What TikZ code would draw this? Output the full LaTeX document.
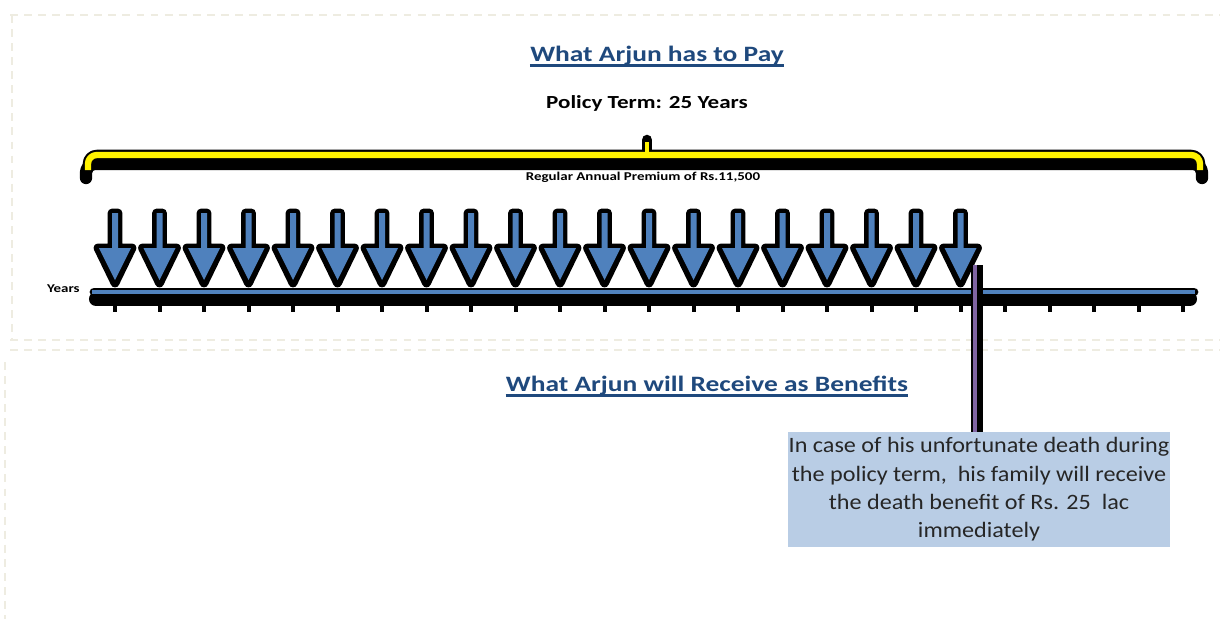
\documentclass[tikz,border=0pt]{standalone}
\usepackage{xcolor}
\usepackage{fontspec}
\setmainfont{Carlito}
\usepackage{tikz}
\usetikzlibrary{positioning}

\definecolor{titleblue}{HTML}{1F497D}
\definecolor{arrowblue}{HTML}{4F81BD}
\definecolor{boxblue}{HTML}{B9CDE5}
\definecolor{deathpurple}{HTML}{8064A2}
\definecolor{framebeige}{HTML}{EEECE1}
\definecolor{boxtext}{HTML}{262626}

% text in the sheet is set wide
\newcommand{\wide}[2][1.25]{\scalebox{#1}[1]{#2}}

\begin{document}
\begin{tikzpicture}[x=0.02cm, y=-0.02cm,
			line join=round,
			frame/.style={draw=framebeige, line width=1.2pt, dash pattern=on 4.5pt off 3.5pt},
			heading/.style={font=\fontsize{12.5}{14}\selectfont\bfseries, text=titleblue, inner sep=0pt, anchor=base},
			smalltext/.style={font=\fontsize{6.8}{7}\selectfont\bfseries, inner sep=0pt},
			payarrow/.style={fill=arrowblue},
			payshadow/.style={draw=black, fill=black, line width=5pt}]

			\useasboundingbox (0,0) rectangle (1220,619);

			% dashed frames
			\draw[frame] (10,15) -- (1220,15);
			\draw[frame] (12,15) -- (12,340);
			\draw[frame] (10,340) -- (1220,340);
			\draw[frame] (10,350) -- (1220,350);
			\draw[frame] (5,362) -- (5,619);

			% headings
			\node[heading] (paytitle) at (657,61) {\wide{What Arjun has to Pay}};
			\draw[titleblue, line width=1.3pt] ([yshift=-2.5pt]paytitle.base west) -- ([yshift=-2.5pt]paytitle.base east);
			\node[font=\fontsize{10.5}{12}\selectfont\bfseries, inner sep=0pt, anchor=base] (term) at (647,108) {\wide{Policy Term: 25 Years}};
			\node[heading] (gettitle) at (707,391) {\wide{What Arjun will Receive as Benefits}};
			\draw[titleblue, line width=1.3pt] ([yshift=-2.5pt]gettitle.base west) -- ([yshift=-2.5pt]gettitle.base east);

			% premium brace
			\node[smalltext] (premium) at (643,177) {\wide{Regular Annual Premium of Rs.11,500}};
			\draw[black, line width=7pt, rounded corners=5pt, line cap=round] (86,178) -- (86,164) -- (1202,164) -- (1202,178);
			\draw[black, line width=6pt, rounded corners=5pt, line cap=round] (88,170) -- (88,155) -- (1200,155) -- (1200,170);
			\draw[black, line width=6pt, line cap=round] (647,155) -- (647,140);
			\draw[yellow, line width=3.6pt, rounded corners=5pt] (88,170) -- (88,155) -- (1200,155) -- (1200,170);
			\draw[yellow, line width=2pt] (647,155) -- (647,142);

			% yearly premium arrows
			\foreach \i in {0,...,19}{
				\pgfmathsetmacro{\px}{115+44.5*\i}
				\draw[payshadow] (\px-3,213) -- (\px+3,213) -- (\px+3,248) -- (\px+17,248) -- (\px,283) -- (\px-17,248) -- (\px-3,248) -- cycle;
			}
			\foreach \i in {0,...,19}{
				\pgfmathsetmacro{\px}{115+44.5*\i}
				\fill[payarrow] (\px-3,213) -- (\px+3,213) -- (\px+3,248) -- (\px+16,248) -- (\px,280) -- (\px-16,248) -- (\px-3,248) -- cycle;
			}

			% timeline
			\foreach \i in {0,...,24}
				\fill[black] (113+44.5*\i,303) rectangle (117+44.5*\i,312);
			\draw[black, line width=8pt, line cap=round] (96,299) -- (1190,299);
			\draw[black, line width=5pt, line cap=round] (94,292) -- (1194,292);
			\draw[arrowblue, line width=2.8pt] (92,292) -- (1195,292);
			\node[smalltext, anchor=east] (years) at (80,289) {\wide{Years}};

			% death benefit
			\node[fill=boxblue, text=boxtext, minimum width=7.64cm, minimum height=2.3cm, inner sep=0pt,
				font=\fontsize{12.5}{16}\selectfont] (benefit) at (979,489.5)
				{\raisebox{-1.8pt}{\wide[1.1]{\begin{tabular}{@{}c@{}}In case of his unfortunate death during\\the policy term,\ \ his family will receive\\the death benefit of Rs. 25\ \ lac\\immediately\end{tabular}}}};
			\coordinate (death) at (975,265);
			\draw[black, line width=7pt] ([xshift=1pt]death) -- ([xshift=1pt]benefit.north -| death);
			\draw[deathpurple, line width=2.3pt] (death) -- (benefit.north -| death);
		\end{tikzpicture}
\end{document}
